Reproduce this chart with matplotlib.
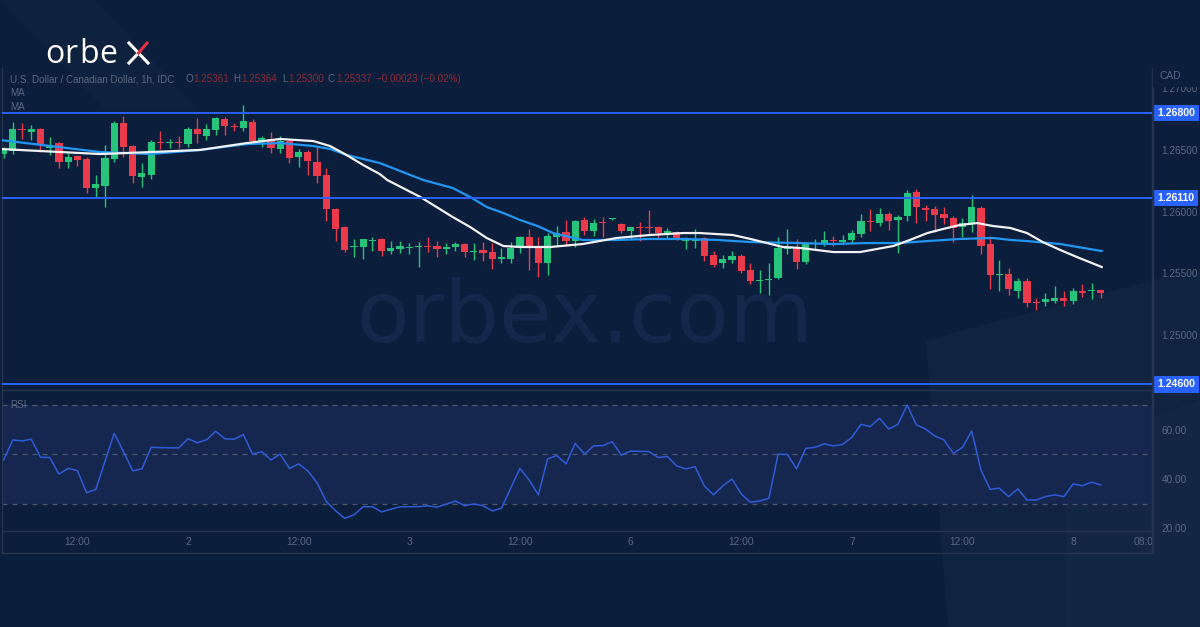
import numpy as np
import matplotlib
matplotlib.use('Agg')
import matplotlib.pyplot as plt
from matplotlib.patches import Polygon, Rectangle
from matplotlib.lines import Line2D

plt.rcParams['font.family'] = ['Liberation Sans', 'DejaVu Sans']

# ---- data (USD/CAD 1h) ----
hours = np.arange(-20, 100)  # hour index, 0 = day 2 00:00

opens = [1.26466, 1.26490, 1.26669, 1.26644, 1.26669, 1.26515, 1.26555, 1.26401, 1.26450, 1.26426,
         1.26191, 1.26207, 1.26426, 1.26717, 1.26531, 1.26280, 1.26296, 1.26563, 1.26555, 1.26563,
         1.26547, 1.26669, 1.26612, 1.26661, 1.26750, 1.26693, 1.26677, 1.26725, 1.26563, 1.26588,
         1.26507, 1.26571, 1.26442, 1.26482, 1.26401, 1.26296, 1.26021, 1.25875, 1.25713, 1.25713,
         1.25761, 1.25778, 1.25680, 1.25697, 1.25705, 1.25713, 1.25721, 1.25721, 1.25697, 1.25713,
         1.25737, 1.25672, 1.25689, 1.25672, 1.25616, 1.25616, 1.25705, 1.25794, 1.25713, 1.25583,
         1.25794, 1.25834, 1.25761, 1.25932, 1.25842, 1.25915, 1.25940, 1.25899, 1.25842, 1.25875,
         1.25875, 1.25875, 1.25826, 1.25834, 1.25761, 1.25761, 1.25786, 1.25648, 1.25583, 1.25608,
         1.25640, 1.25527, 1.25437, 1.25446, 1.25462, 1.25697, 1.25705, 1.25591, 1.25737, 1.25745,
         1.25770, 1.25753, 1.25770, 1.25818, 1.25923, 1.25907, 1.25980, 1.25932, 1.25964, 1.26158,
         1.26029, 1.26021, 1.25980, 1.25948, 1.25875, 1.25907, 1.26029, 1.25737, 1.25486, 1.25494,
         1.25356, 1.25437, 1.25267, 1.25267, 1.25275, 1.25300, 1.25275, 1.25356, 1.25356, 1.25361]
highs = [1.26523, 1.26725, 1.26717, 1.26701, 1.26677, 1.26604, 1.26563, 1.26474, 1.26458, 1.26442,
         1.26296, 1.26539, 1.26733, 1.26774, 1.26539, 1.26393, 1.26580, 1.26652, 1.26588, 1.26612,
         1.26685, 1.26758, 1.26709, 1.26766, 1.26766, 1.26717, 1.26863, 1.26750, 1.26612, 1.26644,
         1.26612, 1.26588, 1.26507, 1.26499, 1.26539, 1.26353, 1.26029, 1.25883, 1.25778, 1.25778,
         1.25794, 1.25786, 1.25761, 1.25761, 1.25745, 1.25753, 1.25794, 1.25761, 1.25745, 1.25753,
         1.25745, 1.25745, 1.25753, 1.25745, 1.25705, 1.25753, 1.25802, 1.25859, 1.25794, 1.25826,
         1.25883, 1.25932, 1.25932, 1.25956, 1.25940, 1.25956, 1.25948, 1.25907, 1.25875, 1.25915,
         1.26013, 1.25883, 1.25867, 1.25842, 1.25794, 1.25859, 1.25794, 1.25680, 1.25648, 1.25680,
         1.25656, 1.25583, 1.25527, 1.25583, 1.25794, 1.25859, 1.25778, 1.25745, 1.25778, 1.25842,
         1.25802, 1.25810, 1.25851, 1.25980, 1.26021, 1.26029, 1.25996, 1.25972, 1.26175, 1.26183,
         1.26053, 1.26045, 1.26037, 1.25964, 1.25948, 1.26134, 1.26045, 1.25802, 1.25608, 1.25543,
         1.25462, 1.25462, 1.25300, 1.25340, 1.25397, 1.25356, 1.25381, 1.25413, 1.25421, 1.25364]
lows = [1.26434, 1.26466, 1.26588, 1.26580, 1.26482, 1.26458, 1.26353, 1.26353, 1.26369, 1.26150,
        1.26118, 1.26037, 1.26401, 1.26442, 1.26231, 1.26199, 1.26264, 1.26507, 1.26515, 1.26515,
        1.26523, 1.26555, 1.26580, 1.26620, 1.26620, 1.26652, 1.26652, 1.26547, 1.26523, 1.26474,
        1.26474, 1.26393, 1.26361, 1.26296, 1.26231, 1.25923, 1.25761, 1.25672, 1.25632, 1.25616,
        1.25680, 1.25640, 1.25656, 1.25664, 1.25656, 1.25551, 1.25672, 1.25632, 1.25656, 1.25680,
        1.25632, 1.25608, 1.25599, 1.25535, 1.25583, 1.25583, 1.25664, 1.25527, 1.25470, 1.25486,
        1.25721, 1.25721, 1.25713, 1.25810, 1.25802, 1.25794, 1.25932, 1.25826, 1.25770, 1.25761,
        1.25810, 1.25778, 1.25786, 1.25770, 1.25697, 1.25705, 1.25599, 1.25551, 1.25543, 1.25583,
        1.25502, 1.25413, 1.25340, 1.25324, 1.25454, 1.25656, 1.25535, 1.25575, 1.25689, 1.25721,
        1.25721, 1.25737, 1.25745, 1.25794, 1.25842, 1.25883, 1.25851, 1.25664, 1.25923, 1.25907,
        1.25923, 1.25834, 1.25899, 1.25753, 1.25794, 1.25834, 1.25656, 1.25373, 1.25356, 1.25324,
        1.25300, 1.25227, 1.25203, 1.25235, 1.25259, 1.25235, 1.25251, 1.25308, 1.25292, 1.25300]
closes = [1.26507, 1.26669, 1.26661, 1.26669, 1.26539, 1.26539, 1.26401, 1.26442, 1.26418, 1.26191,
          1.26223, 1.26434, 1.26717, 1.26523, 1.26288, 1.26312, 1.26563, 1.26555, 1.26563, 1.26555,
          1.26669, 1.26628, 1.26669, 1.26758, 1.26693, 1.26685, 1.26733, 1.26571, 1.26596, 1.26515,
          1.26571, 1.26434, 1.26482, 1.26409, 1.26288, 1.26021, 1.25859, 1.25689, 1.25721, 1.25778,
          1.25770, 1.25680, 1.25705, 1.25721, 1.25713, 1.25721, 1.25713, 1.25697, 1.25713, 1.25737,
          1.25672, 1.25680, 1.25664, 1.25616, 1.25632, 1.25705, 1.25794, 1.25713, 1.25583, 1.25802,
          1.25826, 1.25761, 1.25923, 1.25842, 1.25907, 1.25907, 1.25948, 1.25842, 1.25875, 1.25867,
          1.25867, 1.25826, 1.25842, 1.25786, 1.25770, 1.25778, 1.25640, 1.25567, 1.25616, 1.25640,
          1.25518, 1.25437, 1.25446, 1.25454, 1.25705, 1.25705, 1.25591, 1.25737, 1.25745, 1.25770,
          1.25761, 1.25770, 1.25826, 1.25923, 1.25915, 1.25980, 1.25923, 1.25956, 1.26150, 1.26037,
          1.26013, 1.25972, 1.25948, 1.25867, 1.25907, 1.26037, 1.25721, 1.25486, 1.25494, 1.25373,
          1.25437, 1.25259, 1.25259, 1.25292, 1.25300, 1.25275, 1.25356, 1.25340, 1.25365, 1.25337]

# moving averages, sampled along the chart
ma_fast_x = [-20.4, -9.5, -4.1, 1.3, 6.4, 10, 13.6, 15.4, 17.2, 19, 20.8, 21.6, 25.2, 28.7, 30.6,
             32.4, 34.2, 36, 39.3, 42.8, 46.5, 50.1, 53.7, 55.5, 59.1, 61, 62.8, 64.5, 66.4, 70,
             72.9, 76.5, 78.3, 80.2, 81.9, 83.7, 85.6, 87.3, 89.2, 91, 92.7, 94.6, 96.4, 99.1]
ma_fast = [1.26507, 1.26466, 1.26482, 1.26499, 1.26555, 1.26588, 1.26571, 1.26531, 1.26458, 1.26377,
           1.26304, 1.26256, 1.26118, 1.25956, 1.25875, 1.25786, 1.25721, 1.25713, 1.25713, 1.25737,
           1.25786, 1.25810, 1.25826, 1.25826, 1.25810, 1.25778, 1.25745, 1.25713, 1.25705, 1.25672,
           1.25672, 1.25721, 1.25770, 1.25826, 1.25859, 1.25891, 1.25907, 1.25883, 1.25867, 1.25826,
           1.25753, 1.25689, 1.25632, 1.25551]
ma_slow_x = [-20.4, -9.5, -4.1, 1.3, 6.4, 10, 13.6, 15.4, 17.2, 19, 20.8, 25.5, 28.7, 30.6, 32.4,
             34.2, 36, 37.9, 39.6, 41.4, 42.8, 46.5, 50.1, 53.7, 57.4, 61, 66.4, 70, 73.6, 77.2,
             80.2, 83.7, 87.3, 89.2, 91, 94.6, 99.1]
ma_slow = [1.26580, 1.26482, 1.26466, 1.26499, 1.26547, 1.26555, 1.26531, 1.26507, 1.26458, 1.26426,
           1.26393, 1.26256, 1.26191, 1.26118, 1.26037, 1.25988, 1.25932, 1.25883, 1.25826, 1.25794,
           1.25770, 1.25770, 1.25778, 1.25778, 1.25770, 1.25753, 1.25745, 1.25737, 1.25745, 1.25745,
           1.25761, 1.25778, 1.25786, 1.25770, 1.25761, 1.25737, 1.25680]

rsi = [47.7, 55.8, 55.4, 56.1, 48.8, 48.7, 42.0, 44.3, 43.4, 34.5,
       35.8, 47.2, 58.5, 51.1, 43.3, 44.1, 52.8, 52.7, 52.6, 52.6,
       56.3, 54.7, 55.8, 59.3, 56.3, 56.1, 58.0, 50.1, 51.1, 47.7,
       50.1, 44.3, 46.1, 43.3, 38.5, 30.9, 27.2, 24.1, 25.5, 28.8,
       28.8, 26.7, 27.8, 28.8, 28.8, 28.8, 29.2, 28.6, 29.8, 31.1,
       29.2, 29.9, 29.2, 27.1, 28.2, 36.3, 44.3, 39.6, 33.6, 48.1,
       49.5, 46.1, 54.4, 50.1, 53.4, 53.5, 55.1, 49.7, 51.3, 51.2,
       51.1, 48.7, 49.1, 45.3, 44.1, 45.0, 37.2, 33.6, 37.2, 40.0,
       34.0, 30.6, 31.1, 32.2, 50.0, 50.0, 44.1, 52.4, 52.8, 54.2,
       53.4, 54.0, 56.9, 62.1, 61.2, 64.6, 60.2, 62.1, 69.9, 61.9,
       60.2, 57.4, 55.8, 50.4, 52.8, 59.4, 43.7, 35.8, 36.3, 32.9,
       36.0, 31.5, 31.5, 32.9, 33.6, 32.9, 38.0, 37.3, 38.7, 37.6]

levels = [1.26800, 1.26110, 1.24600]
price_ticks = [1.25000, 1.25500, 1.26000, 1.26500, 1.27000]
rsi_ticks = [20, 40, 60]
rsi_lines = [70, 50, 30]
time_ticks = [-12, 0, 12, 24, 36, 48, 60, 72, 84, 96, 104]
time_labels = ['12:00', '2', '12:00', '3', '12:00', '6', '12:00', '7', '12:00', '8', '08:00']
ohlc_header = [('O', '1.25361', 185), ('H', '1.25364', 233), ('L', '1.25300', 282), ('C', '1.25337', 328)]

# ---- style ----
BG = '#0b1e3b'
BAND = '#15274e'
LINE = '#26354f'
GREY = '#5a6780'
UP, DOWN = '#27c47c', '#ea3a4b'
LEVEL = '#2962ff'
VALRED = '#8f2a36'

W, H = 1200, 627
fx = lambda x: x / W
fy = lambda y: 1 - y / H

fig = plt.figure(figsize=(12, 6.27), dpi=100, facecolor=BG)

# background decoration + watermark
axBG = fig.add_axes([0, 0, 1, 1], zorder=-5)
axBG.set_xlim(0, W); axBG.set_ylim(H, 0); axBG.axis('off')
axBG.add_patch(Rectangle((0, 0), W, H, color=BG, zorder=0))
axBG.add_patch(Polygon([(926, 340), (1200, 268), (1200, 627), (948, 627)], closed=True,
                       fc='white', alpha=0.022, ec='none', zorder=1))
axBG.add_patch(Polygon([(1066, 448), (1200, 400), (1200, 627), (1066, 627)], closed=True,
                       fc='white', alpha=0.018, ec='none', zorder=1))
axBG.add_patch(Polygon([(0, 0), (95, 0), (200, 110), (105, 110)], closed=True,
                       fc='white', alpha=0.015, ec='none', zorder=1))
axBG.text(585, 318, 'orbex.com', ha='center', va='center', fontsize=62, color='#13284b',
          family='DejaVu Sans', zorder=2)

x0, x1 = 2, 1152
xlim = ((x0 - 188) / 9.22, (x1 - 188) / 9.22)

axP = fig.add_axes([fx(x0), fy(390), fx(x1 - x0), fy(68) - fy(390)], facecolor='none')
axR = fig.add_axes([fx(x0), fy(530.7), fx(x1 - x0), fy(390) - fy(530.7)], facecolor='none')
axT = fig.add_axes([fx(x0), fy(553), fx(x1 - x0), fy(530.7) - fy(553)], facecolor='none')

for ax in (axP, axR, axT):
    ax.set_xlim(*xlim)
    ax.set_xticks([])
    for s in ax.spines.values():
        s.set_color(LINE); s.set_linewidth(1.0)
    ax.spines['top'].set_visible(False)

# ---- price pane ----
o = np.array(opens); h = np.array(highs); l = np.array(lows); c = np.array(closes)
col = np.where(c >= o, UP, DOWN)
axP.vlines(hours, l, h, colors=col, lw=1.0, zorder=3)
body = np.maximum(np.abs(c - o), 0.000014)
axP.bar(hours, body, bottom=np.minimum(o, c), width=0.78, color=col, zorder=4, linewidth=0)
axP.plot(ma_slow_x, ma_slow, color='#2196f3', lw=1.6, zorder=5)
axP.plot(ma_fast_x, ma_fast, color='#f2f2f2', lw=1.6, zorder=5)
for lv in levels:
    axP.axhline(lv, color=LEVEL, lw=1.4, zorder=6)
    axP.annotate('%.5f' % lv, xy=(1.0, lv), xycoords=('axes fraction', 'data'),
                 xytext=(4, 0), textcoords='offset points', ha='left', va='center',
                 fontsize=7.6, color='white', fontweight='bold',
                 annotation_clip=False, zorder=10,
                 bbox=dict(boxstyle='square,pad=0.3', fc=LEVEL, ec='none'))
axP.set_ylim(1.245545, 1.27163)
axP.yaxis.tick_right()
axP.set_yticks(price_ticks)
axP.set_yticklabels(['%.5f' % t for t in price_ticks])
axP.tick_params(axis='y', length=0, pad=7, labelsize=7.2, labelcolor=GREY)

# ---- RSI pane ----
axR.fill_between(xlim, 30, 70, color=BAND, zorder=1, lw=0)
for v in rsi_lines:
    axR.axhline(v, color='#4c5870', lw=0.9, ls=(0, (4, 4)), zorder=2)
axR.plot(hours, rsi, color='#2f5bd8', lw=1.1, zorder=4)
axR.set_ylim(19.1, 76.0)
axR.yaxis.tick_right()
axR.set_yticks(rsi_ticks)
axR.set_yticklabels(['%.2f' % t for t in rsi_ticks])
axR.tick_params(axis='y', length=0, pad=7, labelsize=7.2, labelcolor=GREY)

# ---- time strip ----
axT.set_ylim(0, 1); axT.set_yticks([])
for t, lab in zip(time_ticks, time_labels):
    axT.text(t, 0.5, lab, ha='center', va='center', fontsize=7.4, color=GREY, clip_on=True)

# price-scale border and the CAD corner
fig.add_artist(Line2D([fx(1152.5), fx(1152.5)], [fy(68), fy(553)], color=LINE, lw=1.0))
fig.add_artist(Rectangle((fx(1153), fy(86)), fx(47), fy(60) - fy(86), color=BG, zorder=8))
fig.text(fx(1159), fy(76), 'CAD', fontsize=7.4, color=GREY, va='center', zorder=9)

# header texts
hdr = dict(fontsize=7.1, va='center')
fig.text(fx(10), fy(79), 'U.S. Dollar / Canadian Dollar, 1h, IDC', color=GREY, **hdr)
for lab, val, lx in ohlc_header:
    t = fig.text(fx(lx), fy(79), lab, color=GREY, **hdr)
    axBG.annotate(val, xy=(1, 0.5), xycoords=t, xytext=(0.6, 0), textcoords='offset points',
                  ha='left', va='center', color=VALRED, fontsize=7.1, annotation_clip=False)
fig.text(fx(376), fy(79), '\u22120.00023 (\u22120.02%)', color=VALRED, **hdr)
fig.text(fx(10), fy(93), 'MA', color=GREY, **hdr)
fig.text(fx(10), fy(107), 'MA', color=GREY, **hdr)
fig.text(fx(10), fy(405), 'RSI', color=GREY, **hdr)

# logo
for ch, lx in [('o', 45), ('r', 64), ('b', 79), ('e', 99)]:
    fig.text(fx(lx), fy(63), ch, fontsize=23, color='white', family='Open Sans', va='baseline')
fig.add_artist(Line2D([fx(129), fx(148)], [fy(43), fy(63)], color='white', lw=2.2))
fig.add_artist(Line2D([fx(129), fx(138.5)], [fy(63), fy(53)], color='white', lw=2.2))
fig.add_artist(Line2D([fx(138.5), fx(147)], [fy(53), fy(43)], color='#e8323f', lw=2.2))

fig.savefig('out.png', dpi=100, facecolor=BG)
